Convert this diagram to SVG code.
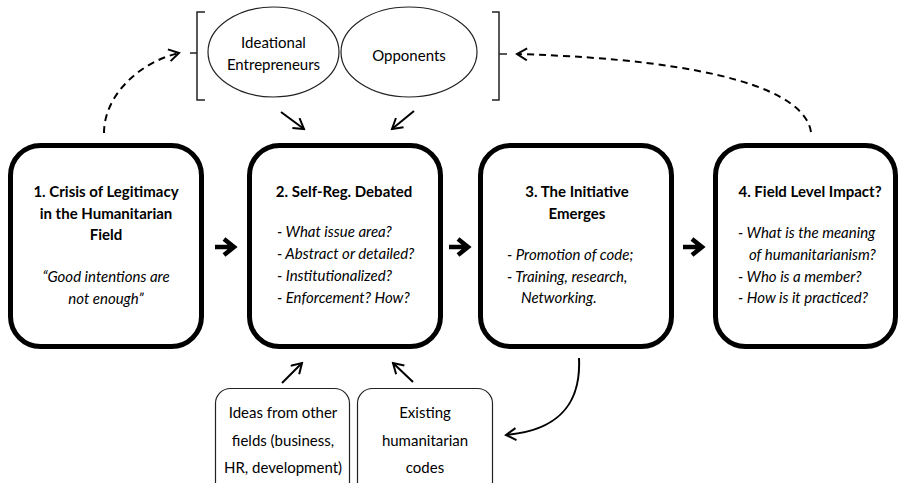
<svg xmlns="http://www.w3.org/2000/svg" width="900" height="483" viewBox="0 0 900 483">
  <defs>
    <style>
      .stage { fill: #fff; stroke: #000; stroke-width: 5; }
      .source { fill: #fff; stroke: #222; stroke-width: 1.2; }
      .actor { fill: #fff; stroke: #222; stroke-width: 1.2; }
      .bracket { fill: none; stroke: #222; stroke-width: 1.5; }
      .thin { fill: none; stroke: #000; stroke-width: 2; marker-end: url(#vee); }
      .dash { fill: none; stroke: #000; stroke-width: 2; stroke-dasharray: 7 5; marker-end: url(#vee); }
      .bold { fill: none; stroke: #000; stroke-width: 4.5; stroke-linejoin: miter; }
      text { font-family: Lato, "Open Sans", "Liberation Sans", sans-serif; font-size: 15px; fill: #000; }
      .title { font-weight: bold; text-anchor: middle; }
      .mid { text-anchor: middle; }
      .it { font-style: italic; }
    </style>
    <marker id="vee" viewBox="0 0 14 14" refX="12" refY="7" markerWidth="14" markerHeight="14" orient="auto" markerUnits="userSpaceOnUse">
      <path d="M2,1 L12,7 L2,13" fill="none" stroke="#000" stroke-width="2"/>
    </marker>
  </defs>

  <!-- stages -->
  <g id="stage1">
    <rect class="stage" x="10.5" y="145.5" width="191" height="201" rx="30"/>
    <text class="title" x="106" y="197">1. Crisis of Legitimacy</text>
    <text class="title" x="106" y="218.5">in the Humanitarian</text>
    <text class="title" x="106" y="240">Field</text>
    <text class="mid it" x="106" y="282">“Good intentions are</text>
    <text class="mid it" x="106" y="303.5">not enough”</text>
  </g>
  <g id="stage2">
    <rect class="stage" x="249.5" y="145.5" width="191" height="201" rx="30"/>
    <text class="title" x="344" y="197">2. Self-Reg. Debated</text>
    <text class="it" x="277" y="237">- What issue area?</text>
    <text class="it" x="277" y="259">- Abstract or detailed?</text>
    <text class="it" x="277" y="281">- Institutionalized?</text>
    <text class="it" x="277" y="303">- Enforcement? How?</text>
  </g>
  <g id="stage3">
    <rect class="stage" x="480.5" y="145.5" width="191" height="201" rx="30"/>
    <text class="title" x="577" y="197">3. The Initiative</text>
    <text class="title" x="577" y="218.5">Emerges</text>
    <text class="it" x="507" y="260">- Promotion of code;</text>
    <text class="it" x="507" y="282">- Training, research,</text>
    <text class="it" x="521" y="303">Networking.</text>
  </g>
  <g id="stage4">
    <rect class="stage" x="715.5" y="145.5" width="180" height="201" rx="30"/>
    <text class="title" x="810" y="197">4. Field Level Impact?</text>
    <text class="it" x="738" y="238">- What is the meaning</text>
    <text class="it" x="749" y="260">of humanitarianism?</text>
    <text class="it" x="738" y="282">- Who is a member?</text>
    <text class="it" x="738" y="303">- How is it practiced?</text>
  </g>

  <!-- actors -->
  <g id="actors">
    <path class="bracket" d="M205,12 H197 V100 H205 M197,53 H190"/>
    <path class="bracket" d="M492,12 H499 V100 H492 M499,54 H507"/>
  </g>
  <g id="entrepreneurs">
    <ellipse class="actor" cx="273.5" cy="52" rx="65.5" ry="45"/>
    <text class="mid" x="273.5" y="48">Ideational</text>
    <text class="mid" x="273.5" y="70">Entrepreneurs</text>
  </g>
  <g id="opponents">
    <ellipse class="actor" cx="409" cy="52" rx="68" ry="45"/>
    <text class="mid" x="409" y="61">Opponents</text>
  </g>

  <!-- idea sources -->
  <g id="other-fields">
    <rect class="source" x="215.5" y="388.5" width="134" height="110" rx="15"/>
    <text class="mid" x="283" y="418">Ideas from other</text>
    <text class="mid" x="283" y="446">fields (business,</text>
    <text class="mid" x="283" y="473">HR, development)</text>
  </g>
  <g id="existing-codes">
    <rect class="source" x="357.5" y="388.5" width="135" height="110" rx="15"/>
    <text class="mid" x="425" y="418">Existing</text>
    <text class="mid" x="425" y="446">humanitarian</text>
    <text class="mid" x="425" y="473">codes</text>
  </g>

  <!-- connectors -->
  <g id="connectors">
    <path class="bold" d="M215,247 H233 M224,239 L234,247 L224,255"/>
    <path class="bold" d="M449,247 H467 M458,239 L468,247 L458,255"/>
    <path class="bold" d="M683,247 H701 M692,239 L702,247 L692,255"/>
    <path class="thin" d="M281,112 L304,129"/>
    <path class="thin" d="M414,111 L392,129"/>
    <path class="thin" d="M282,383 L302,363"/>
    <path class="thin" d="M413,382 L393,363"/>
    <path class="thin" d="M579,358 C581,400 563,430 506,435"/>
    <path class="dash" d="M104,133 C104,95 140,62 179,53"/>
    <path class="dash" d="M811,132 C805,92 720,60 517,54"/>
  </g>
</svg>
